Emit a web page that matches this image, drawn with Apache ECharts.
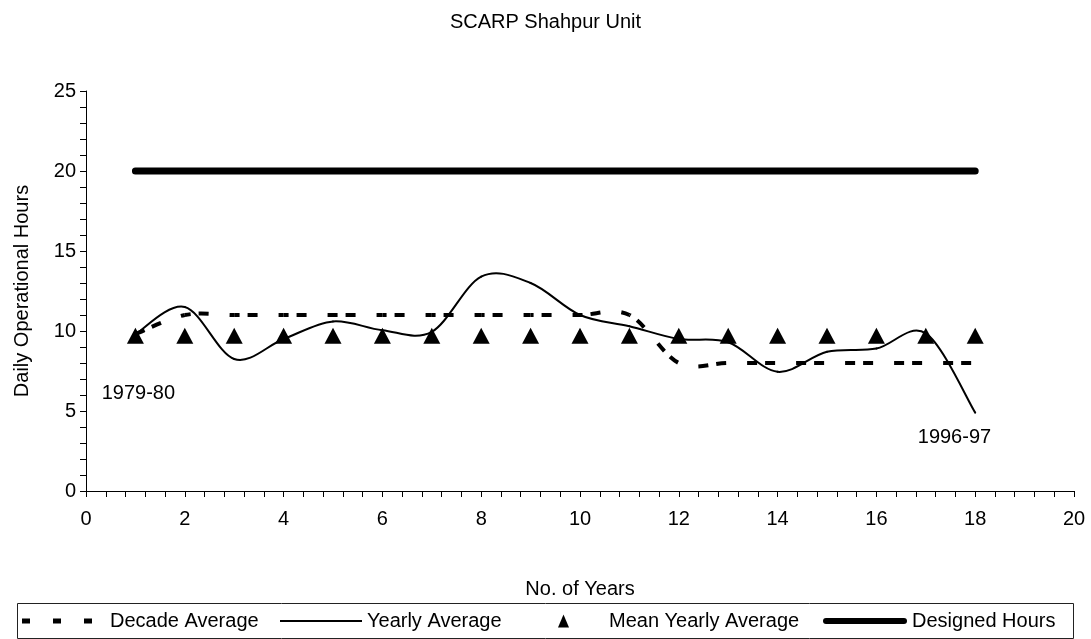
<!DOCTYPE html>
<html><head><meta charset="utf-8">
<script src="https://cdn.jsdelivr.net/npm/echarts@6/dist/echarts.min.js"></script>
<style>html,body{margin:0;padding:0;background:#fff}#c{width:1091px;height:639px}</style>
</head><body><div id="c"></div>
<script>
const years = [1,2,3,4,5,6,7,8,9,10,11,12,13,14,15,16,17,18];
const decadeAverage = [9.8,11,11,11,11,11,11,11,11,11,11,8,8,8,8,8,8,8];
const yearlyAverage = [9.8,11.5,8.25,9.5,10.6,10.05,9.95,13.4,13.0,11.0,10.3,9.5,9.3,7.45,8.7,8.9,9.85,4.9];
const meanYearlyAverage = [9.7,9.7,9.7,9.7,9.7,9.7,9.7,9.7,9.7,9.7,9.7,9.7,9.7,9.7,9.7,9.7,9.7,9.7];
const designedHours = [20,20,20,20,20,20,20,20,20,20,20,20,20,20,20,20,20,20];
const seriesNames = ['Decade Average','Yearly Average','Mean Yearly Average','Designed Hours'];
const annotations = [{text:'1979-80', x:1.06, y:6.1},{text:'1996-97', x:17.58, y:3.35}];

const FONT = "'Liberation Sans', Arial, sans-serif";
const chart = echarts.init(document.getElementById('c'));

function smoothRender(xs, ys, style) {
  return function (params, api) {
    const i = params.dataIndex, n = xs.length;
    if (i >= n - 1) return null;
    const P = xs.map((x, k) => api.coord([x, ys[k]]));
    const seg = k => {
      const p0 = P[Math.max(k - 1, 0)], p1 = P[k], p2 = P[k + 1], p3 = P[Math.min(k + 2, n - 1)];
      return {x1: p1[0], y1: p1[1],
        cpx1: p1[0] + (p2[0] - p0[0]) / 6, cpy1: p1[1] + (p2[1] - p0[1]) / 6,
        cpx2: p2[0] - (p3[0] - p1[0]) / 6, cpy2: p2[1] - (p3[1] - p1[1]) / 6,
        x2: p2[0], y2: p2[1]};
    };
    const len = s => {
      let L = 0, px = s.x1, py = s.y1;
      for (let t = 1; t <= 60; t++) {
        const u = t / 60, m = 1 - u;
        const x = m*m*m*s.x1 + 3*m*m*u*s.cpx1 + 3*m*u*u*s.cpx2 + u*u*u*s.x2;
        const y = m*m*m*s.y1 + 3*m*m*u*s.cpy1 + 3*m*u*u*s.cpy2 + u*u*u*s.y2;
        L += Math.hypot(x - px, y - py); px = x; py = y;
      }
      return L;
    };
    let off = 0;
    for (let k = 0; k < i; k++) off += len(seg(k));
    return {type: 'bezierCurve', shape: seg(i),
      style: Object.assign({fill: 'none', stroke: '#000', lineDashOffset: off}, style)};
  };
}

const legendBase = {
  top: 606, selectedMode: false, padding: 5,
  textStyle: {color: '#000', fontSize: 20, fontFamily: FONT},
  itemStyle: {color: '#000', borderWidth: 0, opacity: 1}
};

chart.setOption({
  animation: false,
  color: ['#000'],
  textStyle: {fontFamily: FONT, color: '#000'},
  title: {text: 'SCARP Shahpur Unit', left: 'center', top: 7,
    textStyle: {fontSize: 20, fontWeight: 'normal', color: '#000', fontFamily: FONT}},
  grid: {left: 86, right: 17, top: 91, bottom: 148},
  xAxis: {type: 'value', min: 0, max: 20, interval: 2,
    name: 'No. of Years', nameLocation: 'middle', nameGap: 88,
    nameTextStyle: {fontSize: 20, color: '#000', fontFamily: FONT},
    axisLine: {lineStyle: {color: '#000', width: 1}},
    axisTick: {show: true, length: 6, lineStyle: {color: '#000'}},
    minorTick: {show: true, splitNumber: 5, length: 6, lineStyle: {color: '#000'}},
    splitLine: {show: false},
    axisLabel: {fontSize: 20, color: '#000', margin: 18, fontFamily: FONT}},
  yAxis: {type: 'value', min: 0, max: 25, interval: 5,
    name: 'Daily Operational Hours', nameLocation: 'middle', nameGap: 54, nameRotate: 90,
    nameTextStyle: {fontSize: 20, color: '#000', fontFamily: FONT},
    axisLine: {show: true, lineStyle: {color: '#000', width: 1}},
    axisTick: {show: true, length: 6, lineStyle: {color: '#000'}},
    minorTick: {show: true, splitNumber: 5, length: 6, lineStyle: {color: '#000'}},
    splitLine: {show: false},
    axisLabel: {fontSize: 20, color: '#000', margin: 10, fontFamily: FONT}},
  legend: [
    Object.assign({}, legendBase, {left: 17, itemWidth: 70, itemHeight: 5,
      textStyle: Object.assign({}, legendBase.textStyle, {padding: [0, 0, 0, 13]}),
      data: [{name: seriesNames[0], icon: 'path://M0,0h8v5h-8zM31,0h8v5h-8zM62,0h8v5h-8z'}]}),
    Object.assign({}, legendBase, {left: 275, itemWidth: 82, itemHeight: 2,
      data: [{name: seriesNames[1], icon: 'rect'}]}),
    Object.assign({}, legendBase, {left: 553, itemWidth: 11, itemHeight: 13,
      textStyle: Object.assign({}, legendBase.textStyle, {padding: [0, 0, 0, 35]}),
      data: [{name: seriesNames[2], icon: 'triangle'}]}),
    Object.assign({}, legendBase, {left: 818, itemWidth: 84, itemHeight: 6,
      data: [{name: seriesNames[3], icon: 'path://M3,0H81A3,3 0 0 1 81,6H3A3,3 0 0 1 3,0Z'}]})
  ],
  graphic: [{type: 'rect', shape: {x: 17.5, y: 603.5, width: 1056, height: 35},
    style: {fill: 'none', stroke: '#222', lineWidth: 1}, silent: true}],
  series: [
    {name: seriesNames[3], type: 'line', z: 2, symbol: 'none',
      data: years.map((x, i) => [x, designedHours[i]]),
      lineStyle: {color: '#000', width: 7, cap: 'round'}},
    {name: seriesNames[0], type: 'custom', z: 3,
      data: years.map((x, i) => [x, decadeAverage[i]]), encode: {x: 0, y: 1},
      renderItem: smoothRender(years, decadeAverage, {lineWidth: 4, lineDash: [10, 8, 10, 21]})},
    {name: seriesNames[1], type: 'custom', z: 4,
      data: years.map((x, i) => [x, yearlyAverage[i]]), encode: {x: 0, y: 1},
      renderItem: smoothRender(years, yearlyAverage, {lineWidth: 2, lineCap: 'round'})},
    {name: seriesNames[2], type: 'scatter', z: 5, symbol: 'triangle', symbolSize: [17, 16],
      itemStyle: {color: '#000', opacity: 1},
      data: years.map((x, i) => [x, meanYearlyAverage[i]]),
      markPoint: {symbol: 'circle', symbolSize: 0, silent: true,
        label: {show: true, position: 'inside', color: '#000', fontSize: 20, fontFamily: FONT,
          formatter: p => p.name},
        data: annotations.map(a => ({name: a.text, coord: [a.x, a.y]}))}}
  ]
});
</script></body></html>
